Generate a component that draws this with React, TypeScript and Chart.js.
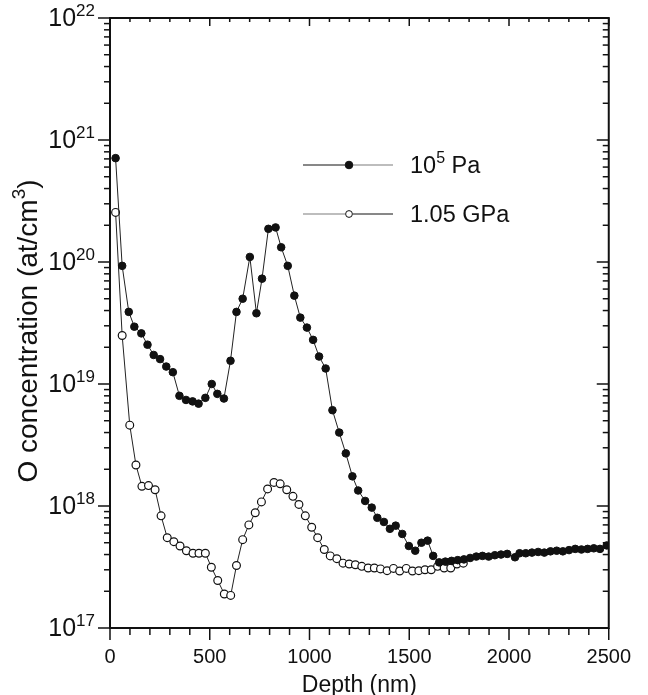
import React, { useEffect, useRef } from 'react';
import { Chart, registerables } from 'chart.js';

Chart.register(...registerables);

// ---- data ----
const depthAmbient = [
  28, 61, 94, 122, 157, 188, 219, 251, 282, 315, 348, 381, 414, 444, 478, 510, 538, 571, 604, 634,
  665, 701, 734, 762, 794, 830, 858, 891, 924, 954, 987, 1018, 1048, 1081, 1115, 1149, 1182, 1215,
  1244, 1279, 1312, 1340, 1373, 1403, 1432, 1465, 1498, 1530, 1561, 1592, 1620, 1650, 1681, 1712,
  1743, 1774, 1805, 1836, 1867, 1898, 1929, 1960, 1991, 2030, 2053, 2084, 2115, 2146, 2177, 2208,
  2239, 2270, 2301, 2332, 2363, 2394, 2425, 2456, 2490,
];
const concAmbient = [
  7.1e20, 9.3e19, 3.9e19, 2.95e19, 2.6e19, 2.1e19, 1.73e19, 1.6e19, 1.39e19, 1.25e19, 8.0e18, 7.4e18,
  7.2e18, 6.9e18, 7.7e18, 1.0e19, 8.3e18, 7.6e18, 1.55e19, 3.9e19, 5.0e19, 1.1e20, 3.8e19, 7.3e19,
  1.87e20, 1.92e20, 1.32e20, 9.3e19, 5.3e19, 3.5e19, 2.9e19, 2.3e19, 1.68e19, 1.34e19, 6.1e18, 4.0e18,
  2.7e18, 1.75e18, 1.34e18, 1.1e18, 9.7e17, 8.0e17, 7.4e17, 6.5e17, 6.9e17, 5.9e17, 4.7e17, 4.3e17,
  5.0e17, 5.2e17, 3.9e17, 3.45e17, 3.5e17, 3.55e17, 3.6e17, 3.65e17, 3.75e17, 3.85e17, 3.9e17,
  3.85e17, 3.95e17, 4.0e17, 4.05e17, 3.8e17, 4.1e17, 4.1e17, 4.15e17, 4.2e17, 4.15e17, 4.25e17,
  4.3e17, 4.25e17, 4.35e17, 4.45e17, 4.4e17, 4.45e17, 4.5e17, 4.45e17, 4.75e17,
];
const depthHighP = [
  28, 61, 99, 130, 160, 193, 226, 256, 287, 320, 351, 383, 416, 446, 478, 508, 540, 573, 605, 634,
  665, 696, 728, 759, 790, 822, 853, 886, 917, 947, 979, 1011, 1041, 1074, 1104, 1137, 1168, 1199,
  1230, 1262, 1294, 1325, 1356, 1389, 1421, 1452, 1485, 1516, 1548, 1579, 1610, 1642, 1675, 1708,
  1739, 1771,
];
const concHighP = [
  2.55e20, 2.5e19, 4.6e18, 2.17e18, 1.45e18, 1.47e18, 1.36e18, 8.3e17, 5.5e17, 5.1e17, 4.7e17, 4.3e17,
  4.1e17, 4.1e17, 4.1e17, 3.15e17, 2.45e17, 1.9e17, 1.85e17, 3.25e17, 5.3e17, 7.0e17, 8.8e17, 1.08e18,
  1.38e18, 1.56e18, 1.52e18, 1.36e18, 1.2e18, 1.03e18, 8.3e17, 6.7e17, 5.5e17, 4.4e17, 3.9e17, 3.7e17,
  3.4e17, 3.35e17, 3.3e17, 3.2e17, 3.1e17, 3.1e17, 3.05e17, 2.95e17, 3.08e17, 2.93e17, 3.08e17,
  2.93e17, 2.95e17, 3.0e17, 3.0e17, 3.2e17, 3.1e17, 3.1e17, 3.35e17, 3.4e17,
];
const seriesLabels = ['10^5 Pa', '1.05 GPa'];
const xTicks = [0, 500, 1000, 1500, 2000, 2500];
const yDecades = [17, 18, 19, 20, 21, 22];
const xTitle = 'Depth (nm)';
const yTitle = 'O concentration (at/cm^3)';

const FONT = '"Liberation Sans", Arial, Helvetica, sans-serif';

type Seg = { t: string; sup: boolean };
function segs(text: string): Seg[] {
  const out: Seg[] = [];
  const re = /\^(\d+)/g;
  let last = 0;
  let m: RegExpExecArray | null;
  while ((m = re.exec(text))) {
    if (m.index > last) out.push({ t: text.slice(last, m.index), sup: false });
    out.push({ t: m[1], sup: true });
    last = re.lastIndex;
  }
  if (last < text.length) out.push({ t: text.slice(last), sup: false });
  return out;
}
function supSize(size: number) {
  return Math.round(size * 0.68);
}
function richWidth(ctx: CanvasRenderingContext2D, parts: Seg[], size: number) {
  let w = 0;
  for (const p of parts) {
    ctx.font = `${p.sup ? supSize(size) : size}px ${FONT}`;
    w += ctx.measureText(p.t).width;
  }
  return w;
}
function drawRich(
  ctx: CanvasRenderingContext2D,
  text: string,
  x: number,
  y: number,
  size: number,
  align: 'left' | 'right' | 'center'
) {
  const parts = segs(text);
  const w = richWidth(ctx, parts, size);
  let cx = align === 'right' ? x - w : align === 'center' ? x - w / 2 : x;
  ctx.textBaseline = 'alphabetic';
  ctx.textAlign = 'left';
  for (const p of parts) {
    const s = p.sup ? supSize(size) : size;
    ctx.font = `${s}px ${FONT}`;
    ctx.fillText(p.t, cx, p.sup ? y - size * 0.42 : y);
    cx += ctx.measureText(p.t).width;
  }
}

const decorPlugin = {
  id: 'decor',
  afterDraw(chart: any) {
    const ctx: CanvasRenderingContext2D = chart.ctx;
    const { left, right, top, bottom } = chart.chartArea;
    const xs = chart.scales.x;
    const ys = chart.scales.y;
    ctx.save();
    ctx.strokeStyle = '#111';
    ctx.fillStyle = '#111';
    ctx.lineWidth = 1.5;
    const line = (x1: number, y1: number, x2: number, y2: number) => {
      ctx.beginPath();
      ctx.moveTo(x1, y1);
      ctx.lineTo(x2, y2);
      ctx.stroke();
    };
    // x ticks
    for (let v = xTicks[0]; v <= xTicks[xTicks.length - 1]; v += 100) {
      const px = xs.getPixelForValue(v);
      const major = v % 500 === 0;
      line(px, bottom, px, bottom + (major ? 12 : 7));
      line(px, top, px, top + (major ? 8 : 4));
    }
    // y ticks
    for (const d of yDecades) {
      for (let m = 1; m <= 9; m++) {
        if (d === yDecades[yDecades.length - 1] && m > 1) break;
        const py = ys.getPixelForValue(m * Math.pow(10, d));
        const major = m === 1;
        line(left - (major ? 12 : 6), py, left, py);
        line(right - (major ? 12 : 6), py, right, py);
      }
    }
    // frame
    ctx.lineWidth = 2;
    ctx.strokeRect(left, top, right - left, bottom - top);

    // y tick labels
    for (const d of yDecades) {
      const py = ys.getPixelForValue(Math.pow(10, d));
      drawRich(ctx, '10^' + d, left - 15, py + 8, 25, 'right');
    }
    // x title
    drawRich(ctx, xTitle, (left + right) / 2, 692, 23, 'center');
    // y title
    ctx.save();
    ctx.translate(37, (top + bottom) / 2 + 8);
    ctx.rotate(-Math.PI / 2);
    drawRich(ctx, yTitle, 0, 0, 28, 'center');
    ctx.restore();

    // legend
    const rows = [165, 214];
    chart.data.datasets.forEach((ds: any, i: number) => {
      const y = rows[i];
      ctx.strokeStyle = '#111';
      ctx.lineWidth = 1;
      ctx.globalAlpha = i === 0 ? 1 : 0.55;
      line(303, y, 345, y);
      ctx.globalAlpha = i === 0 ? 0.55 : 1;
      line(353, y, 393, y);
      ctx.globalAlpha = 1;
      ctx.beginPath();
      ctx.arc(349, y, i === 0 ? 3.8 : 3.4, 0, Math.PI * 2);
      ctx.fillStyle = ds.pointBackgroundColor;
      ctx.fill();
      ctx.lineWidth = 1;
      ctx.strokeStyle = '#111';
      ctx.stroke();
      ctx.fillStyle = '#111';
      drawRich(ctx, ds.label, 410, y + 8, 23.5, 'left');
    });
    ctx.restore();
  },
};

export default function App() {
  const ref = useRef<HTMLCanvasElement | null>(null);
  useEffect(() => {
    if (!ref.current) return;
    const chart = new Chart(ref.current, {
      type: 'line',
      data: {
        datasets: [
          {
            label: seriesLabels[0],
            data: depthAmbient.map((x, i) => ({ x, y: concAmbient[i] })),
            borderColor: '#222',
            borderWidth: 1,
            pointRadius: 3.8,
            pointBackgroundColor: '#111',
            pointBorderColor: '#111',
            pointBorderWidth: 1,
            tension: 0,
          },
          {
            label: seriesLabels[1],
            data: depthHighP.map((x, i) => ({ x, y: concHighP[i] })),
            borderColor: '#222',
            borderWidth: 1,
            pointRadius: 3.9,
            pointBackgroundColor: '#ffffff',
            pointBorderColor: '#111',
            pointBorderWidth: 1.2,
            tension: 0,
          },
        ],
      },
      options: {
        animation: false,
        responsive: false,
        devicePixelRatio: 1,
        layout: { padding: { left: 110, right: 32, top: 18, bottom: 0 } },
        plugins: { legend: { display: false }, tooltip: { enabled: false } },
        scales: {
          x: {
            type: 'linear',
            min: xTicks[0],
            max: xTicks[xTicks.length - 1],
            afterBuildTicks: (scale: any) => {
              scale.ticks = xTicks.map((v) => ({ value: v }));
            },
            afterFit: (scale: any) => {
              scale.height = 67;
            },
            grid: { display: false, drawTicks: false },
            border: { display: false },
            ticks: {
              color: '#111',
              font: { family: FONT, size: 20 },
              padding: 17,
              maxRotation: 0,
              autoSkip: false,
              callback: (v: any) => String(v),
            },
          },
          y: {
            type: 'logarithmic',
            display: false,
            min: Math.pow(10, yDecades[0]),
            max: Math.pow(10, yDecades[yDecades.length - 1]),
          },
        },
      },
      plugins: [decorPlugin],
    } as any);
    return () => chart.destroy();
  }, []);
  return (
    <div style={{ position: 'absolute', left: 0, top: 0, width: 648, height: 695, background: '#fff' }}>
      <canvas ref={ref} width={648} height={695} />
    </div>
  );
}
